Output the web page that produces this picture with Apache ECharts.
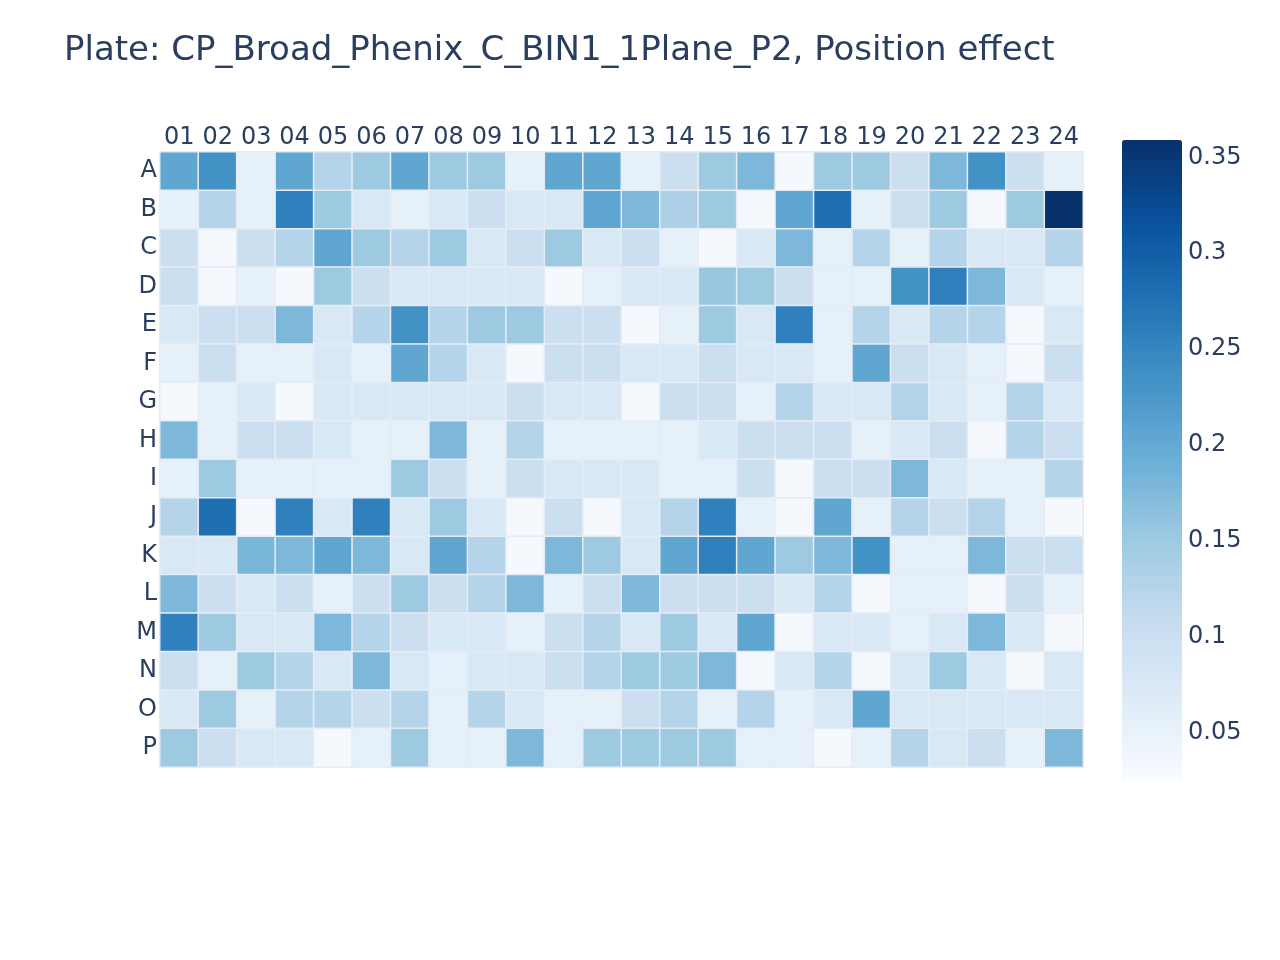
<!DOCTYPE html>
<html lang="en">

<head>
    <meta charset="UTF-8">
    <style>
        html, body { margin: 0; padding: 0; background: #fff; }
        #main { width: 1280px; height: 960px; }
    </style>
    <title>Position effect</title>
</head>

<body>
    <div id="main"></div>
    <script src="https://cdn.jsdelivr.net/npm/echarts@6/dist/echarts.min.js"></script>
    <script>
        // plate layout
        var cols = ['01', '02', '03', '04', '05', '06', '07', '08', '09', '10', '11', '12',
            '13', '14', '15', '16', '17', '18', '19', '20', '21', '22', '23', '24'];
        var rows = ['A', 'B', 'C', 'D', 'E', 'F', 'G', 'H', 'I', 'J', 'K', 'L', 'M', 'N', 'O', 'P'];

        // values per plate row
        var rowA = [0.205, 0.234, 0.055, 0.205, 0.127, 0.151, 0.205, 0.151, 0.151, 0.055, 0.205, 0.205, 0.055, 0.10, 0.151, 0.178, 0.03, 0.151, 0.151, 0.10, 0.178, 0.234, 0.10, 0.055];
        var rowB = [0.055, 0.127, 0.055, 0.257, 0.151, 0.076, 0.055, 0.076, 0.10, 0.076, 0.076, 0.205, 0.178, 0.135, 0.151, 0.03, 0.205, 0.279, 0.055, 0.10, 0.151, 0.03, 0.151, 0.359];
        var rowC = [0.10, 0.03, 0.10, 0.127, 0.205, 0.151, 0.127, 0.151, 0.076, 0.10, 0.151, 0.076, 0.10, 0.055, 0.03, 0.076, 0.178, 0.055, 0.127, 0.055, 0.127, 0.076, 0.076, 0.127];
        var rowD = [0.10, 0.03, 0.055, 0.03, 0.151, 0.10, 0.076, 0.076, 0.076, 0.076, 0.03, 0.055, 0.076, 0.076, 0.155, 0.151, 0.10, 0.055, 0.055, 0.234, 0.257, 0.178, 0.076, 0.055];
        var rowE = [0.076, 0.10, 0.10, 0.178, 0.076, 0.127, 0.234, 0.127, 0.151, 0.151, 0.10, 0.10, 0.03, 0.055, 0.151, 0.076, 0.257, 0.055, 0.127, 0.076, 0.127, 0.127, 0.03, 0.076];
        var rowF = [0.055, 0.10, 0.055, 0.055, 0.076, 0.055, 0.205, 0.127, 0.076, 0.03, 0.10, 0.10, 0.076, 0.076, 0.10, 0.076, 0.076, 0.055, 0.205, 0.10, 0.076, 0.055, 0.03, 0.10];
        var rowG = [0.03, 0.055, 0.076, 0.03, 0.076, 0.076, 0.076, 0.076, 0.076, 0.10, 0.076, 0.076, 0.03, 0.10, 0.10, 0.055, 0.127, 0.076, 0.076, 0.127, 0.076, 0.055, 0.127, 0.076];
        var rowH = [0.178, 0.055, 0.10, 0.10, 0.076, 0.055, 0.055, 0.178, 0.055, 0.127, 0.055, 0.055, 0.055, 0.055, 0.076, 0.10, 0.10, 0.10, 0.055, 0.076, 0.10, 0.03, 0.127, 0.10];
        var rowI = [0.055, 0.151, 0.055, 0.055, 0.055, 0.055, 0.151, 0.10, 0.055, 0.10, 0.076, 0.076, 0.076, 0.055, 0.055, 0.10, 0.03, 0.10, 0.10, 0.178, 0.076, 0.055, 0.055, 0.127];
        var rowJ = [0.127, 0.279, 0.03, 0.257, 0.076, 0.257, 0.076, 0.151, 0.076, 0.03, 0.10, 0.03, 0.076, 0.127, 0.257, 0.055, 0.03, 0.205, 0.055, 0.127, 0.10, 0.127, 0.055, 0.03];
        var rowK = [0.076, 0.076, 0.18, 0.178, 0.205, 0.178, 0.076, 0.205, 0.127, 0.03, 0.178, 0.151, 0.076, 0.205, 0.257, 0.205, 0.151, 0.178, 0.234, 0.055, 0.055, 0.178, 0.10, 0.10];
        var rowL = [0.178, 0.10, 0.076, 0.10, 0.055, 0.10, 0.151, 0.10, 0.127, 0.178, 0.055, 0.10, 0.178, 0.10, 0.10, 0.10, 0.076, 0.127, 0.03, 0.055, 0.055, 0.03, 0.10, 0.055];
        var rowM = [0.257, 0.151, 0.076, 0.076, 0.178, 0.127, 0.10, 0.076, 0.076, 0.055, 0.10, 0.127, 0.076, 0.151, 0.076, 0.205, 0.03, 0.076, 0.076, 0.055, 0.076, 0.178, 0.076, 0.03];
        var rowN = [0.10, 0.055, 0.151, 0.127, 0.076, 0.178, 0.076, 0.055, 0.076, 0.076, 0.10, 0.127, 0.151, 0.151, 0.178, 0.03, 0.076, 0.127, 0.03, 0.076, 0.151, 0.076, 0.03, 0.076];
        var rowO = [0.076, 0.151, 0.055, 0.127, 0.127, 0.10, 0.127, 0.055, 0.127, 0.076, 0.055, 0.055, 0.10, 0.127, 0.055, 0.127, 0.055, 0.076, 0.205, 0.076, 0.076, 0.076, 0.076, 0.076];
        var rowP = [0.151, 0.10, 0.076, 0.076, 0.03, 0.055, 0.151, 0.055, 0.055, 0.178, 0.055, 0.151, 0.151, 0.151, 0.151, 0.055, 0.055, 0.03, 0.055, 0.127, 0.076, 0.10, 0.055, 0.178];

        var plate = [rowA, rowB, rowC, rowD, rowE, rowF, rowG, rowH, rowI, rowJ, rowK, rowL, rowM, rowN, rowO, rowP];

        // colour bar range and ticks
        var scaleMin = 0.026;
        var scaleMax = 0.359;
        var barTicks = [0.05, 0.1, 0.15, 0.2, 0.25, 0.3, 0.35];

        var blues = ['rgb(247,251,255)', 'rgb(222,235,247)', 'rgb(198,219,239)', 'rgb(158,202,225)',
            'rgb(107,174,214)', 'rgb(66,146,198)', 'rgb(33,113,181)', 'rgb(8,81,156)', 'rgb(8,48,107)'];

        var cells = [];
        plate.forEach(function (row, r) {
            row.forEach(function (v, c) {
                cells.push([c, r, v]);
            });
        });

        var font = 'DejaVu Sans';
        var ink = '#2a3f5f';

        var option = {
            backgroundColor: '#fff',
            animation: false,
            title: {
                text: 'Plate: CP_Broad_Phenix_C_BIN1_1Plane_P2, Position effect',
                left: 64,
                top: 34,
                padding: 0,
                textStyle: {
                    fontFamily: font,
                    fontSize: 34,
                    fontWeight: 'normal',
                    color: ink
                }
            },
            grid: [{
                left: 160,
                top: 152,
                width: 923,
                height: 615,
                show: true,
                backgroundColor: '#e5ecf6',
                borderWidth: 0
            }, {
                // invisible grid that carries the colour bar ticks
                left: 1122,
                top: 140,
                width: 60,
                height: 639,
                show: false
            }],
            xAxis: [{
                type: 'category',
                gridIndex: 0,
                data: cols,
                position: 'top',
                axisLine: { show: false },
                axisTick: { show: false },
                splitLine: { show: false },
                axisLabel: {
                    interval: 0,
                    margin: 2,
                    fontFamily: font,
                    fontSize: 24,
                    color: ink
                }
            }, {
                type: 'value',
                gridIndex: 1,
                show: false,
                min: 0,
                max: 1
            }],
            yAxis: [{
                type: 'category',
                gridIndex: 0,
                data: rows,
                inverse: true,
                axisLine: { show: false },
                axisTick: { show: false },
                splitLine: { show: false },
                axisLabel: {
                    interval: 0,
                    margin: 3,
                    padding: [4, 0, 0, 0],
                    fontFamily: font,
                    fontSize: 24,
                    color: ink
                }
            }, {
                type: 'value',
                gridIndex: 1,
                position: 'right',
                min: scaleMin,
                max: scaleMax,
                axisLine: { show: false },
                axisTick: { show: false },
                splitLine: { show: false },
                axisLabel: {
                    customValues: barTicks,
                    margin: 6,
                    padding: [4, 0, 0, 0],
                    fontFamily: font,
                    fontSize: 24,
                    color: ink
                }
            }],
            visualMap: {
                type: 'continuous',
                min: scaleMin,
                max: scaleMax,
                seriesIndex: 0,
                calculable: false,
                left: 1122,
                top: 140,
                padding: 0,
                itemWidth: 60,
                itemHeight: 639,
                inRange: { color: blues }
            },
            series: [{
                type: 'heatmap',
                xAxisIndex: 0,
                yAxisIndex: 0,
                data: cells,
                itemStyle: {
                    borderColor: '#e5ecf6',
                    borderWidth: 1.5
                },
                emphasis: { disabled: true }
            }, {
                type: 'scatter',
                xAxisIndex: 1,
                yAxisIndex: 1,
                data: []
            }]
        };

        var myChart = echarts.init(document.getElementById('main'));
        myChart.setOption(option);
    </script>
</body>

</html>
